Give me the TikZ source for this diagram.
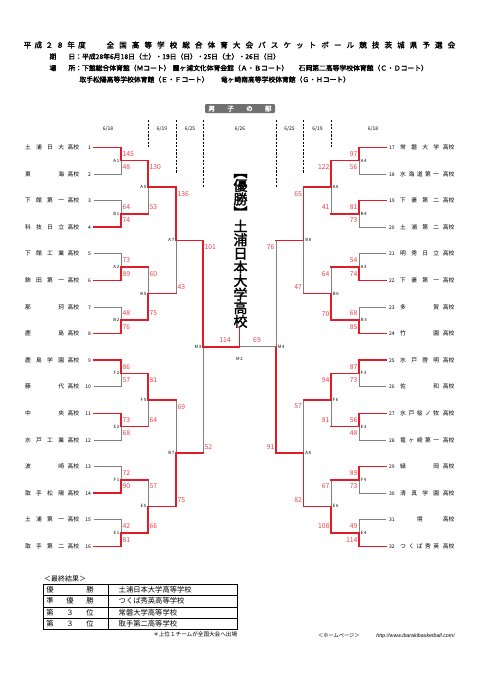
\documentclass[tikz,border=0pt]{standalone}
\usepackage{fontspec}
\setmainfont{Noto Sans CJK JP}[AutoFakeBold=2]
\newfontfamily\urlfont{Liberation Sans}
\usetikzlibrary{calc}

\definecolor{winred}{RGB}{226,28,38}
\definecolor{scorered}{RGB}{238,64,72}
\definecolor{losegray}{RGB}{128,128,128}
\definecolor{bargray}{RGB}{112,112,112}

\tikzset{
    win/.style={draw=winred, line width=1.5pt, line cap=rect},
    lose/.style={draw=losegray, line width=0.8pt},
    dayline/.style={draw=black, line width=0.9pt, dash pattern=on 2.2pt off 1.4pt},
    team/.style={inner sep=0pt, font=\fontsize{5.8}{6}\selectfont},
    score/.style={inner sep=0pt, text=scorered, font=\fontsize{6.8}{7}\selectfont},
    court/.style={inner sep=0pt, font=\fontsize{4.3}{4.5}\selectfont},
    day/.style={inner sep=0pt, font=\fontsize{5}{5}\selectfont},
    head/.style={inner sep=0pt, anchor=west, font=\fontsize{6.8}{7}\bfseries\selectfont},
    cell/.style={inner sep=0pt, font=\fontsize{7.3}{7.5}\selectfont}
}

\newcommand{\lteam}[2]{\makebox[39pt][s]{#2}\hspace{3.6pt}高校\hspace{5.5pt}\makebox[6pt][r]{\fontsize{5}{5}\selectfont #1}}
\newcommand{\rteam}[2]{\makebox[6pt][l]{\fontsize{5}{5}\selectfont #1}\hspace{5pt}\makebox[39pt][s]{#2}\hspace{3.6pt}高校}
\newcommand{\courtlab}[2]{#1\,#2}

\begin{document}
\begin{tikzpicture}[x=1pt, y=-1pt]
\useasboundingbox (0,0) rectangle (481,680);

% heading
\node[head, font=\fontsize{7.5}{8}\bfseries\selectfont] (title1) at (23.5,45) {\makebox[62pt][s]{平 成 ２ ８ 年 度}};
\node[head, font=\fontsize{7.5}{8}\bfseries\selectfont] (title2) at (106.4,45) {\makebox[348.6pt][s]{全 国 高 等 学 校 総 合 体 育 大 会 バ ス ケ ッ ト ボ ー ル 競 技 茨 城 県 予 選 会}};
\node[head] (when) at (49.3,56.5) {\makebox[25.8pt][s]{期 日}：平成28年6月18日（土）・19日（日）・25日（土）・26日（日）};
\node[head] (where1) at (49.3,68) {\makebox[25.8pt][s]{場 所}：下館総合体育館（Ｍコート）};
\node[head] (where2) at (172.5,68) {霞ヶ浦文化体育会館（Ａ・Ｂコート）};
\node[head] (where3) at (298.5,68) {石岡第二高等学校体育館（Ｃ・Ｄコート）};
\node[head] (where4) at (79.3,79.5) {取手松陽高等学校体育館（Ｅ・Ｆコート）};
\node[head] (where5) at (220.6,79.5) {竜ヶ崎南高等学校体育館（Ｇ・Ｈコート）};

\node[fill=bargray, rounded corners=1.2pt, minimum width=70pt, minimum height=9pt, inner sep=0pt,
      text=white, font=\fontsize{6.5}{7}\bfseries\selectfont] (boys) at (240,108.5) {\makebox[63pt][s]{男 子 の 部}};

% days
\foreach \x/\dd [count=\k] in {108/18, 162/19, 190/25, 240/26, 289.5/25, 317.5/19, 373/18}
    \node[day] (day\k) at (\x,128.5) {6/\dd};
\foreach \x/\yb in {148/147, 176/173, 203/187, 276/187, 303.5/173, 331/147}
    \draw[dayline] (\x,120) -- (\x,\yb);

% teams
\foreach \i/\nm in {1/土 浦 日 大, 2/東 海, 3/下 館 第 一, 4/科 技 日 立, 5/下 館 工 業, 6/鉾 田 第 一,
                    7/那 珂, 8/鹿 島, 9/鹿 島 学 園, 10/藤 代, 11/中 央, 12/水 戸 工 業,
                    13/波 崎, 14/取 手 松 陽, 15/土 浦 第 一, 16/取 手 第 二}{
    \pgfmathsetmacro\ty{147.3+(\i-1)*26.6}
    \node[team, anchor=east] (T\i) at (91,\ty) {\lteam{\i}{\nm}};
    \coordinate (t\i) at (94,\ty);
}
\foreach \i/\nm in {17/常 磐 大 学, 18/水 海 道 第 一, 19/下 妻 第 二, 20/土 浦 第 二, 21/明 秀 日 立,
                    22/下 妻 第 一, 23/多 賀, 24/竹 園, 25/水 戸 啓 明, 26/佐 和, 27/水 戸 桜 ノ 牧,
                    28/竜 ヶ 崎 第 一, 29/緑 岡, 30/清 真 学 園, 31/\hfil 境\hfil, 32/つ く ば 秀 英}{
    \pgfmathsetmacro\ty{147.3+(\i-17)*26.6}
    \node[team, anchor=west] (T\i) at (389,\ty) {\rteam{\i}{\nm}};
    \coordinate (t\i) at (386,\ty);
}

% games
\foreach \m/\x/\y in {A1/121/160.6, B1/121/213.8, A2/121/267.0, B2/121/320.2,
                      F2/121/373.4, E2/121/426.6, F1/121/479.8, E1/121/533.0,
                      A5/148/187.2, B5/148/293.6, F5/148/400.0, E5/148/506.4,
                      A7/176/240.4, B7/176/453.2, M3/203/346.8,
                      A4/359/160.6, B4/359/213.8, A3/359/267.0, B3/359/320.2,
                      F3/359/373.4, E3/359/426.6, F4/359/479.8, E4/359/533.0,
                      A6/331/187.2, B6/331/293.6, F6/331/400.0, E6/331/506.4,
                      B8/303.5/240.4, A8/303.5/453.2, M4/276/346.8}
    \coordinate (\m) at (\x,\y);

% first round: winner / loser
\foreach \m/\w/\l in {A1/1/2, B1/4/3, A2/6/5, B2/8/7, F2/9/10, E2/11/12, F1/14/13, E1/16/15,
                      A4/17/18, B4/19/20, A3/22/21, B3/24/23, F3/25/26, E3/27/28, F4/29/30, E4/32/31}{
    \draw[lose] (t\l) -| (\m);
    \draw[win] (t\w) -| (\m);
}
% later rounds
\foreach \m/\w/\l in {A5/A1/B1, B5/B2/A2, F5/F2/E2, E5/E1/F1, A7/A5/B5, B7/E5/F5, M3/A7/B7,
                      A6/A4/B4, B6/B3/A3, F6/F3/E3, E6/E4/F4, B8/A6/B6, A8/E6/F6, M4/A8/B8}{
    \draw[lose] (\l -| \m) -- (\m);
    \draw[win] (\l) -- (\l -| \m);
    \draw[win] (\w) -| (\m);
}

% scores
\foreach \m/\u/\l/\a/\b in {A1/t1/t2/145/48, B1/t3/t4/64/74, A2/t5/t6/73/89, B2/t7/t8/48/76,
                            F2/t9/t10/86/57, E2/t11/t12/73/68, F1/t13/t14/72/90, E1/t15/t16/42/81,
                            A5/A1/B1/130/53, B5/A2/B2/60/75, F5/F2/E2/81/64, E5/F1/E1/57/66,
                            A7/A5/B5/136/43, B7/F5/E5/69/75, M3/A7/B7/101/52}{
    \node[score, anchor=west] (\m-u) at ($(\m |- \u)+(1.4,6.6)$) {\a};
    \node[score, anchor=west] (\m-l) at ($(\m |- \l)+(1.4,-6.6)$) {\b};
}
\foreach \m/\u/\l/\a/\b in {A4/t17/t18/97/56, B4/t19/t20/81/73, A3/t21/t22/54/74, B3/t23/t24/68/85,
                            F3/t25/t26/87/73, E3/t27/t28/56/48, F4/t29/t30/89/73, E4/t31/t32/49/114,
                            A6/A4/B4/122/41, B6/A3/B3/64/70, F6/F3/E3/94/81, E6/F4/E4/67/108,
                            B8/A6/B6/65/47, A8/F6/E6/57/82, M4/B8/A8/76/91}{
    \node[score, anchor=east] (\m-u) at ($(\m |- \u)+(-1.4,6.6)$) {\a};
    \node[score, anchor=east] (\m-l) at ($(\m |- \l)+(-1.4,-6.6)$) {\b};
}

% court labels
\foreach \m in {A1,B1,A2,B2,F2,E2,F1,E1,A5,B5,F5,E5,A7,B7,M3}
    \node[court, anchor=east] (\m-c) at ($(\m)+(-1.6,0)$) {\expandafter\courtlab\m};
\foreach \m in {A4,B4,A3,B3,F3,E3,F4,E4,A6,B6,F6,E6,B8,A8,M4}
    \node[court, anchor=west] (\m-c) at ($(\m)+(1.6,0)$) {\expandafter\courtlab\m};

% final
\node[inner sep=0pt, align=center, font=\fontsize{14}{13.6}\bfseries\selectfont] (champ) at (240.5,251)
    {︻\\優\\勝\\︼\\土\\浦\\日\\本\\大\\学\\高\\校};
\coordinate (M2) at (239.5,346.8);
\draw[lose] (M4) -- (M2);
\draw[win] (M3) -- (M2) -- (M2 |- champ.south);
\node[score] (M2-u) at ($(M2)+(-14.5,-6.8)$) {114};
\node[score] (M2-l) at ($(M2)+(17.5,-6.8)$) {69};
\node[court] (M2-c) at ($(M2)+(0,12)$) {M\,2};

% final results
\node[cell, anchor=west, font=\fontsize{7}{7}\selectfont] (result) at (44,579) {＜最終結果＞};
\draw[line width=0.8pt] (43.3,584.3) rectangle (237.3,629.3);
\foreach \y in {595.55, 606.8, 618.05}
    \draw[line width=0.6pt] (43.3,\y) -- (237.3,\y);
\draw[line width=0.6pt] (108.3,584.3) -- (108.3,629.3);
\foreach \rk/\sc [count=\k] in {優 勝/土浦日本大学高等学校, 準 優 勝/つくば秀英高等学校,
                                第 ３ 位/常磐大学高等学校, 第 ３ 位/取手第二高等学校}{
    \pgfmathsetmacro\ry{589.9+(\k-1)*11.25}
    \node[cell] (place\k) at (70,\ry) {\makebox[47.5pt][s]{\rk}};
    \node[cell, anchor=west] (school\k) at (118.5,\ry) {\sc};
}
\node[cell, anchor=east, font=\fontsize{5.6}{6}\selectfont] (note) at (237.3,634.5) {＊上位１チームが全国大会へ出場};
\node[cell, anchor=west, font=\fontsize{5.2}{6}\selectfont] (hp) at (318,636) {＜ホームページ＞};
\node[cell, anchor=east, font=\fontsize{5.3}{6}\urlfont\itshape] (url) at (455,636) {http://www.ibarakibasketball.com/};

\end{tikzpicture}
\end{document}
